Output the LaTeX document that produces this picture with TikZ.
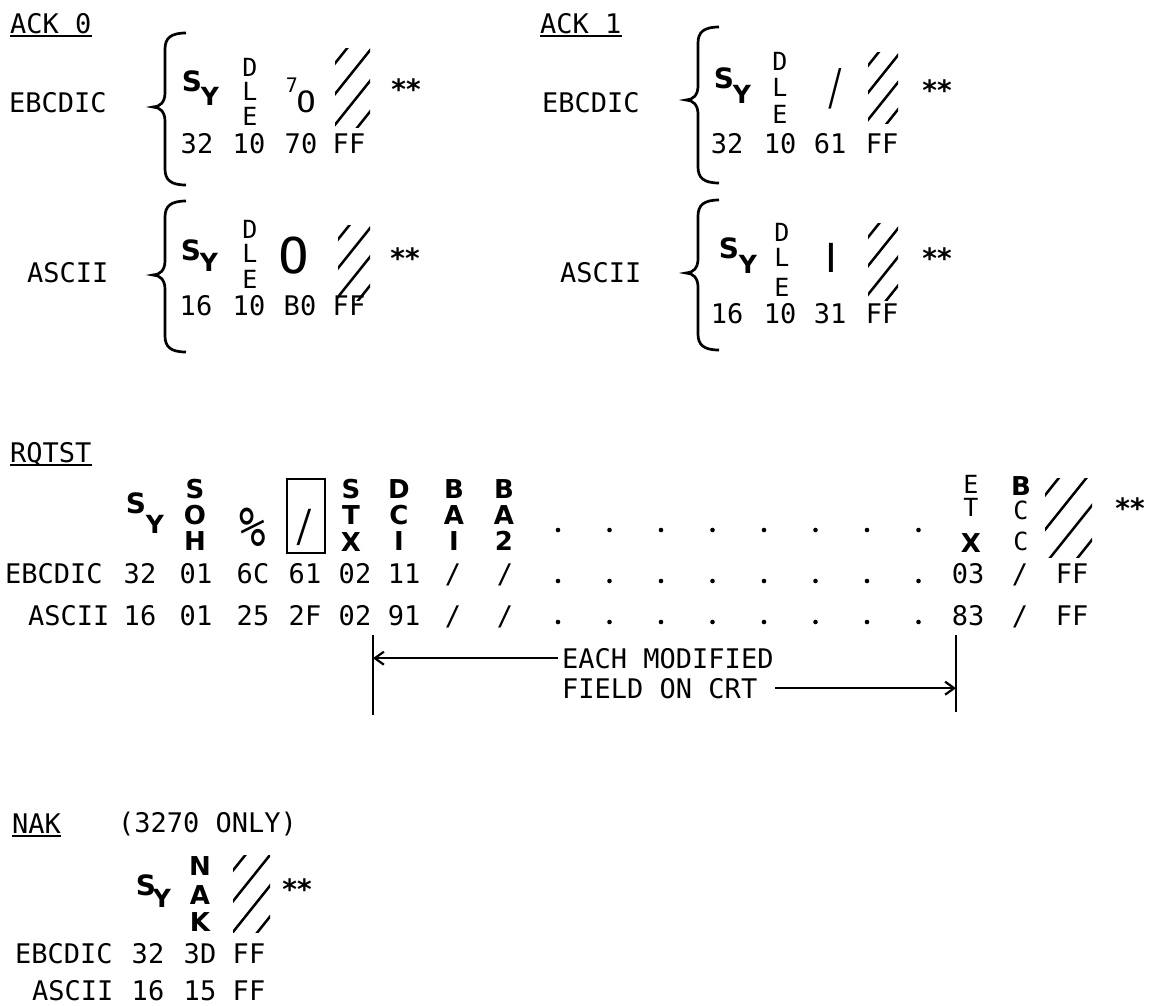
\documentclass[tikz,border=0pt]{standalone}
\usepackage{fontspec}
\usetikzlibrary{arrows.meta}
\newfontfamily\monof{DejaVu Sans Mono}
\newfontfamily\sansf{DejaVu Sans}
\newcommand\fsz[1]{\fontsize{#1}{#1}\selectfont}
\tikzset{
  lab/.style={font=\monof\fsz{27}, inner sep=0pt, anchor=base west},
  ttl/.style={font=\monof\fsz{27}, inner sep=0pt, anchor=base west},
  num/.style={font=\monof\fsz{27}, inner sep=0pt, anchor=base},
  thn/.style={font=\monof\fsz{25}, inner sep=0pt},
  bl/.style={font=\sansf\bfseries\fsz{26}, inner sep=0pt},
  syS/.style={font=\sansf\bfseries\fsz{28}, inner sep=0pt},
  syY/.style={font=\sansf\bfseries\fsz{25}, inner sep=0pt},
  astr/.style={font=\sansf\bfseries\fsz{28}, inner sep=0pt},
  uline/.style={line width=1.8pt},
  hatchl/.style={line width=2.5pt},
  bracel/.style={line width=2.7pt},
  vline/.style={line width=2.2pt},
  arr/.style={line width=2pt, -{Straight Barb[length=9pt,width=13pt,line width=2.2pt]}},
  dotf/.style={fill=black}
}
% hatched field: x0 y0 x1 y1 (pixel coordinates, y downwards)
\newcommand\hatchbox[4]{%
  \begin{scope}
    \clip (#1,#2) rectangle (#3,#4);
    \pgfmathsetmacro\hT{(#4-#2)+(#3-#1)*1.25}%
    \foreach \i in {1,2,3,4}{%
      \draw[hatchl] (#1-2, {#2+\hT*(\i-0.5)/4+2.5}) -- ++({\hT},{-\hT*1.25});
    }
  \end{scope}}
% left curly brace: shaft x, top y, tip y, bottom y
\newcommand\lcurly[4]{%
  \draw[bracel] (#1+21,#2) .. controls (#1+6,#2) and (#1,#2+5) .. (#1,#2+16)
    -- (#1,#3-14) .. controls (#1,#3-5) and (#1-5,#3) .. (#1-12,#3)
    .. controls (#1-5,#3) and (#1,#3+5) .. (#1,#3+14)
    -- (#1,#4-16) .. controls (#1,#4-5) and (#1+6,#4) .. (#1+21,#4);}
\begin{document}
\begin{tikzpicture}[x=1pt,y=-1pt]
\fill[white] (0,0) rectangle (1153,1005);
\useasboundingbox (0,0) rectangle (1153,1005);

% ================= ACK 0 =================
\node[ttl] (a0t) at (10,33) {ACK 0};
\draw[uline] ([yshift=-3pt]a0t.base west) -- ([yshift=-3pt]a0t.base east);
% EBCDIC
\node[lab] (a0el) at (9,112) {EBCDIC};
\lcurly{165}{33}{107}{185}
\node[syS] (a0eS) at (192,81) {S};
\node[syY] (a0eY) at (210,96) {Y};
\node[thn] (a0eD) at (250,67) {D};
\node[thn] (a0eL) at (250,91) {L};
\node[thn] (a0eE) at (250,116) {E};
\node[font=\monof\fsz{20}, inner sep=0pt] (a0e7) at (292,85) {7};
\node[inner sep=0pt] (a0eO) at (306,102) {\scalebox{1.35}[1.22]{\monof\fsz{24}O}};
\hatchbox{335}{48}{370}{127}
\node[astr] (a0ea) at (406,89) {**};
\node[num] (a0e1) at (197,153) {32};
\node[num] (a0e2) at (249,153) {10};
\node[num] (a0e3) at (301,153) {70};
\node[num] (a0e4) at (349,153) {FF};
% ASCII
\node[lab] (a0al) at (27,282) {ASCII};
\lcurly{165}{201}{275}{352}
\node[syS] (a0aS) at (191,250) {S};
\node[syY] (a0aY) at (209,262) {Y};
\node[thn] (a0aD) at (250,229) {D};
\node[thn] (a0aL) at (250,253) {L};
\node[thn] (a0aE) at (250,279) {E};
\node[inner sep=0pt] (a0aO) at (294,256) {\scalebox{1.5}[1.45]{\monof\fsz{34}O}};
\hatchbox{338}{225}{370}{300}
\node[astr] (a0aa) at (405,258) {**};
\node[num] (a0a1) at (196,315) {16};
\node[num] (a0a2) at (249,315) {10};
\node[num] (a0a3) at (300,315) {B0};
\node[num] (a0a4) at (349,315) {FF};

% ================= ACK 1 =================
\node[ttl] (a1t) at (540,33) {ACK 1};
\draw[uline] ([yshift=-3pt]a1t.base west) -- ([yshift=-3pt]a1t.base east);
% EBCDIC
\node[lab] (a1el) at (542,112) {EBCDIC};
\lcurly{698}{27}{100}{183}
\node[syS] (a1eS) at (724,78) {S};
\node[syY] (a1eY) at (742,94) {Y};
\node[thn] (a1eD) at (780,61) {D};
\node[thn] (a1eL) at (780,87) {L};
\node[thn] (a1eE) at (780,114) {E};
\node[inner sep=0pt] (a1esl) at (836,89) {\scalebox{0.8}[1.45]{\monof\fsz{34}/}};
\hatchbox{868}{52}{898}{123}
\node[astr] (a1ea) at (937,90) {**};
\node[num] (a1e1) at (727,153) {32};
\node[num] (a1e2) at (780,153) {10};
\node[num] (a1e3) at (830,153) {61};
\node[num] (a1e4) at (882,153) {FF};
% ASCII
\node[lab] (a1al) at (560,282) {ASCII};
\lcurly{698}{200}{273}{350}
\node[syS] (a1aS) at (729,248) {S};
\node[syY] (a1aY) at (748,264) {Y};
\node[thn] (a1aD) at (782,232) {D};
\node[thn] (a1aL) at (782,257) {L};
\node[thn] (a1aE) at (782,287) {E};
\node[font=\sansf\fsz{40}, inner sep=0pt] (a1abar) at (831,258) {I};
\hatchbox{868}{223}{898}{300}
\node[astr] (a1aa) at (937,258) {**};
\node[num] (a1a1) at (727,323) {16};
\node[num] (a1a2) at (780,323) {10};
\node[num] (a1a3) at (830,323) {31};
\node[num] (a1a4) at (882,323) {FF};

% ================= RQTST =================
\node[ttl] (rqt) at (10,462) {RQTST};
\draw[uline] ([yshift=-3pt]rqt.base west) -- ([yshift=-3pt]rqt.base east);
\node[syS] (rS) at (136,503) {S};
\node[syY] (rY) at (155,524) {Y};
\node[bl] (rsoh1) at (195,489) {S};
\node[bl] (rsoh2) at (195,515) {O};
\node[bl] (rsoh3) at (195,541) {H};
\node[inner sep=0pt] (rpct) at (253,527) {\scalebox{1}[1.25]{\monof\fsz{44}\%}};
\node[draw, line width=2.4pt, minimum width=38pt, minimum height=74pt, inner sep=0pt] (rbox) at (306,516) {};
\node[inner sep=0pt] (rsl) at (305,527) {\scalebox{0.9}[1.3]{\monof\fsz{34}/}};
\node[bl] (rstx1) at (351,489) {S};
\node[bl] (rstx2) at (351,515) {T};
\node[bl] (rstx3) at (351,542) {X};
\node[bl] (rdc1) at (399,489) {D};
\node[bl] (rdc2) at (399,515) {C};
\node[bl] (rdc3) at (399,541) {I};
\node[bl] (rba11) at (454,489) {B};
\node[bl] (rba12) at (454,515) {A};
\node[bl] (rba13) at (454,541) {I};
\node[bl] (rba21) at (504,489) {B};
\node[bl] (rba22) at (504,515) {A};
\node[bl] (rba23) at (504,541) {2};
\node[thn] (retx1) at (971,484) {E};
\node[thn] (retx2) at (971,507) {T};
\node[bl] (retx3) at (971,543) {X};
\node[bl] (rbcc1) at (1021,486) {B};
\node[thn] (rbcc2) at (1021,510) {C};
\node[thn] (rbcc3) at (1021,541) {C};
\hatchbox{1045}{478}{1092}{557}
\node[astr] (rast) at (1130,508) {**};
% EBCDIC row
\node[lab] (rel) at (5,583) {EBCDIC};
\node[num] (re1) at (140,583) {32};
\node[num] (re2) at (196,583) {01};
\node[num] (re3) at (253,583) {6C};
\node[num] (re4) at (305,583) {61};
\node[num] (re5) at (355,583) {02};
\node[num] (re6) at (404,583) {11};
\node[num] (re7) at (453,583) {/};
\node[num] (re8) at (505,583) {/};
\node[num] (re9) at (968,583) {03};
\node[num] (re10) at (1020,583) {/};
\node[num] (re11) at (1072,583) {FF};
% ASCII row
\node[lab] (ral) at (28,625) {ASCII};
\node[num] (ra1) at (140,625) {16};
\node[num] (ra2) at (196,625) {01};
\node[num] (ra3) at (253,625) {25};
\node[num] (ra4) at (305,625) {2F};
\node[num] (ra5) at (355,625) {02};
\node[num] (ra6) at (404,625) {91};
\node[num] (ra7) at (453,625) {/};
\node[num] (ra8) at (505,625) {/};
\node[num] (ra9) at (968,625) {83};
\node[num] (ra10) at (1020,625) {/};
\node[num] (ra11) at (1072,625) {FF};
% dots
\foreach \i in {0,...,7}{
  \foreach \yy in {530,581,622}{
    \fill[dotf] ({558+51.5*\i},\yy) circle (2.3pt);
  }
}
% span arrows
\coordinate (lvt) at (373,635);
\coordinate (lvb) at (373,715);
\coordinate (rvt) at (956,635);
\coordinate (rvb) at (956,712);
\draw[vline] (lvt) -- (lvb);
\draw[vline] (rvt) -- (rvb);
\node[lab] (em) at (562,668) {EACH MODIFIED};
\node[lab] (fc) at (562,698) {FIELD ON CRT};
\draw[arr] ([xshift=-4pt]em.west) -- (em.west -| lvt);
\draw[arr] ([xshift=18pt]fc.east) -- (fc.east -| rvt);

% ================= NAK =================
\node[ttl] (nakt) at (12,833) {NAK};
\draw[uline] ([yshift=-3pt]nakt.base west) -- ([yshift=-3pt]nakt.base east);
\node[lab] (nako) at (118,832) {(3270 ONLY)};
\node[syS] (nS) at (146,885) {S};
\node[syY] (nY) at (162,898) {Y};
\node[bl] (nN) at (200,866) {N};
\node[bl] (nA) at (200,895) {A};
\node[bl] (nK) at (200,922) {K};
\hatchbox{233}{855}{270}{932}
\node[astr] (nast) at (297,889) {**};
\node[lab] (nel) at (15,963) {EBCDIC};
\node[num] (ne1) at (148,963) {32};
\node[num] (ne2) at (200,963) {3D};
\node[num] (ne3) at (249,963) {FF};
\node[lab] (nal) at (32,1000) {ASCII};
\node[num] (na1) at (148,1000) {16};
\node[num] (na2) at (200,1000) {15};
\node[num] (na3) at (249,1000) {FF};
\end{tikzpicture}
\end{document}
